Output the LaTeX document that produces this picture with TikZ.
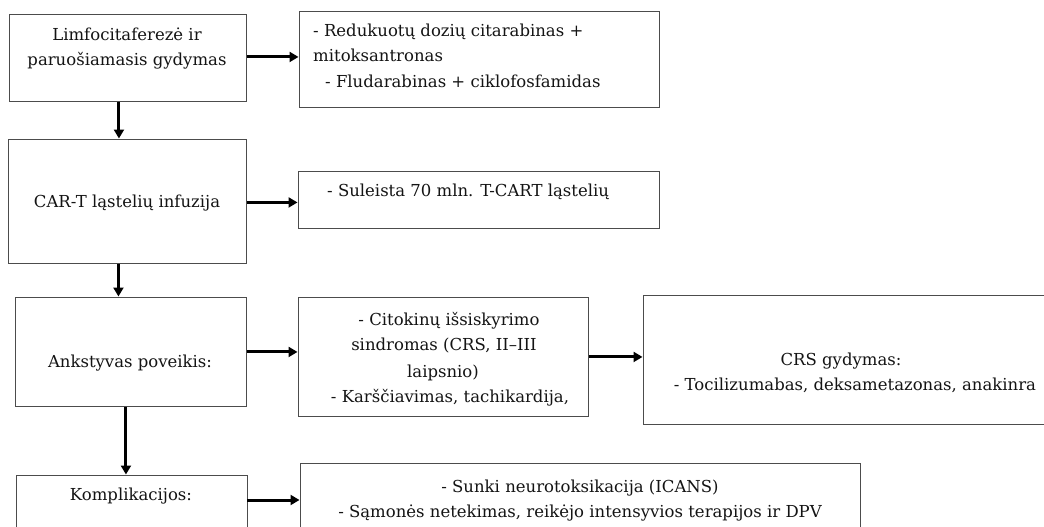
\documentclass[tikz,border=0pt]{standalone}
\usepackage{fontspec}
\setmainfont{DejaVu Serif}
\usetikzlibrary{arrows.meta}
\tikzset{
  box/.style={draw=black!70, line width=0.9pt, inner sep=0pt, anchor=north west},
  txt/.style={inner sep=0pt, anchor=base, font=\fontsize{16.5}{25}\selectfont, text=black!92},
  txtl/.style={txt, anchor=base west},
  arr/.style={line width=3pt, -{Triangle[length=9pt,width=10pt]}, shorten >=0.5pt}
}
\begin{document}
\begin{tikzpicture}[x=1pt,y=-1pt]
\useasboundingbox (0,0) rectangle (1044,527);
\clip (0,0) rectangle (1044,527);
\fill[white] (0,0) rectangle (1044,527);
% boxes
\node[box, minimum width=237pt, minimum height=87pt] (b1) at (9,14) {};
\node[box, minimum width=360pt, minimum height=96pt] (b2) at (299,11) {};
\node[box, minimum width=238pt, minimum height=124pt] (b3) at (8,139) {};
\node[box, minimum width=361pt, minimum height=57pt] (b4) at (298,171) {};
\node[box, minimum width=231pt, minimum height=109pt] (b5) at (15,297) {};
\node[box, minimum width=290pt, minimum height=119pt] (b6) at (298,297) {};
\node[box, minimum width=420pt, minimum height=129pt] (b7) at (643,295) {};
\node[box, minimum width=231pt, minimum height=90pt] (b8) at (16,475) {};
\node[box, minimum width=560pt, minimum height=100pt] (b9) at (300,463) {};
% texts
\node[txt] (t1a) at (127,41) {Limfocitaferezė ir};
\node[txt] (t1b) at (127,66) {paruošiamasis gydymas};
\node[txtl] (t2a) at (313,37) {- Redukuotų dozių citarabinas +};
\node[txtl] (t2b) at (313,62) {mitoksantronas};
\node[txtl] (t2c) at (325,88) {- Fludarabinas + ciklofosfamidas};
\node[txt] (t3) at (127,207) {CAR-T ląstelių infuzija};
\node[txtl] (t4) at (327,196) {- Suleista 70 mln. T-CART ląstelių};
\node[txt] (t5) at (130,367) {Ankstyvas poveikis:};
\node[txt] (t6a) at (449,325) {- Citokinų išsiskyrimo};
\node[txt] (t6b) at (444,350) {sindromas (CRS, II–III};
\node[txt] (t6c) at (443,377) {laipsnio)};
\node[txt] (t6d) at (450,402) {- Karščiavimas, tachikardija,};
\node[txt] (t7a) at (841,365) {CRS gydymas:};
\node[txt] (t7b) at (855,390) {- Tocilizumabas, deksametazonas, anakinra};
\node[txt] (t8) at (131,500) {Komplikacijos:};
\node[txt] (t9a) at (580,492) {- Sunki neurotoksikacija (ICANS)};
\node[txt] (t9b) at (580,517) {- Sąmonės netekimas, reikėjo intensyvios terapijos ir DPV};
% arrows
\draw[arr] ([yshift=1pt]b1.east) -- ([yshift=1pt]b1.east -| b2.west);
\draw[arr] ([yshift=-1pt]b3.east) -- ([yshift=-1pt]b3.east -| b4.west);
\draw[arr] (b5.east) -- (b5.east -| b6.west);
\draw[arr] (b6.east) -- (b6.east -| b7.west);
\draw[arr] (b8.west |- 0,500) ++(231,0) coordinate (c8) -- (c8 -| b9.west);
\draw[arr] ([xshift=-9pt]b1.south) -- ([xshift=-9pt]b1.south |- b3.north);
\draw[arr] ([xshift=-9pt]b3.south) -- ([xshift=-9pt]b3.south |- b5.north);
\draw[arr] ([xshift=-5pt]b5.south) -- ([xshift=-5pt]b5.south |- b8.north);
\end{tikzpicture}
\end{document}
